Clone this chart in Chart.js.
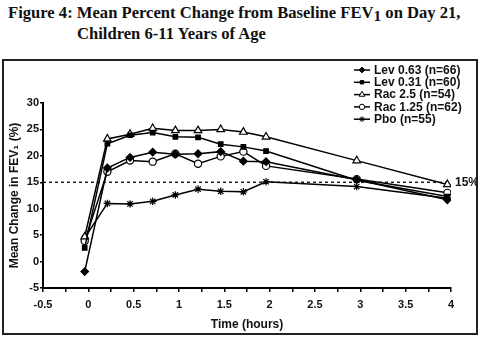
<!DOCTYPE html>
<html>
<head>
<meta charset="utf-8">
<script src="https://cdn.jsdelivr.net/npm/chart.js@4/dist/chart.umd.min.js"></script>
<style>
  body { margin: 0; background: #fff; width: 480px; height: 339px; position: relative; overflow: hidden; }
  .titulo { position: absolute; left: 8px; top: 2px; font-family: "Liberation Serif", "Times New Roman", serif; font-weight: bold; font-size: 16.6px; line-height: 21px; color: #111; white-space: nowrap; }
  .titulo .l2 { padding-left: 69px; }
  .titulo sub { font-size: 15.5px; vertical-align: -3px; line-height: 0; }
  .quadro { position: absolute; left: 2px; top: 59px; width: 472px; height: 272px; border: 2px solid #222; }
</style>
</head>
<body>
<div class="titulo">
  <div>Figure 4: Mean Percent Change from Baseline FEV<sub>1</sub> on Day 21,</div>
  <div class="l2">Children 6-11 Years of Age</div>
</div>
<div class="quadro"><canvas id="grafico" width="472" height="272"></canvas></div>
<script>
// horas apos a dose
const tempos = [-0.04, 0.21, 0.46, 0.71, 0.96, 1.21, 1.46, 1.71, 1.96, 2.96, 3.96];

// variacao media do FEV1 (%) por grupo
const lev063 = [-1.9, 17.7, 19.7, 20.7, 20.3, 20.4, 20.8, 19.0, 18.9, 15.5, 11.7];
const lev031 = [2.6, 22.3, 23.9, 24.4, 23.6, 23.5, 22.2, 21.7, 20.9, 15.4, 12.3];
const rac25 = [4.7, 23.2, 24.1, 25.2, 24.8, 24.8, 25.0, 24.5, 23.6, 19.1, 14.6];
const rac125 = [3.9, 17.0, 19.1, 18.9, 20.4, 18.5, 19.9, 20.8, 18.1, 15.6, 13.0];
const pbo = [4.5, 11.0, 10.9, 11.4, 12.6, 13.7, 13.3, 13.2, 15.1, 14.2, 12.0];

const rotulos = ['Lev 0.63 (n=66)', 'Lev 0.31 (n=60)', 'Rac 2.5 (n=54)', 'Rac 1.25 (n=62)', 'Pbo (n=55)'];
const limiar = 15;
const xTicks = { min: -0.5, max: 4, passo: 0.25 };
const yTicks = { min: -5, max: 30, passo: 5 };

const fonte = '"Liberation Sans", Arial, Helvetica, sans-serif';

const pontos = (ys) => tempos.map((t, i) => ({ x: t, y: ys[i] }));

const estilos = [
  { pointStyle: 'rectRot', pointRadius: 3.8, pointBackgroundColor: '#000' },
  { pointStyle: 'rect', pointRadius: 3.2, pointBackgroundColor: '#000' },
  { pointStyle: 'triangle', pointRadius: 4.4, pointBackgroundColor: '#fff' },
  { pointStyle: 'circle', pointRadius: 3.6, pointBackgroundColor: '#fff' },
  { pointStyle: 'star', pointRadius: 3.8, pointBackgroundColor: '#000' }
];

const series = [lev063, lev031, rac25, rac125, pbo];

const datasets = series.map((ys, i) => Object.assign({
  label: rotulos[i],
  data: pontos(ys),
  borderColor: '#000',
  borderWidth: 1.5,
  pointBorderColor: '#000',
  pointBorderWidth: 1.2,
  tension: 0
}, estilos[i]));

// linha tracejada dos 15%
datasets.push({
  label: 'limiar',
  data: [{ x: xTicks.min, y: limiar }, { x: xTicks.max, y: limiar }],
  borderColor: '#222',
  borderWidth: 1.5,
  borderDash: [3, 3],
  pointRadius: 0
});

const legendaPlugin = {
  id: 'legendaLinhas',
  afterDraw(chart) {
    const ctx = chart.ctx;
    const area = chart.chartArea;
    const x0 = area.right - 97;
    const y0 = area.top - 33;
    ctx.save();
    ctx.font = 'bold 12px ' + fonte;
    ctx.textBaseline = 'middle';
    rotulos.forEach((txt, i) => {
      const y = y0 + i * 12.3;
      ctx.strokeStyle = '#000';
      ctx.lineWidth = 1.5;
      ctx.beginPath();
      ctx.moveTo(x0, y);
      ctx.lineTo(x0 + 16, y);
      ctx.stroke();
      ctx.fillStyle = estilos[i].pointBackgroundColor;
      ctx.lineWidth = 1;
      Chart.helpers.drawPoint(ctx, {
        pointStyle: estilos[i].pointStyle,
        radius: estilos[i].pointRadius * 0.75,
        borderWidth: 1,
        rotation: 0
      }, x0 + 8, y);
      ctx.fillStyle = '#111';
      ctx.fillText(txt, x0 + 20, y + 0.5);
    });
    // rotulo do limiar
    const yl = chart.scales.y.getPixelForValue(limiar);
    ctx.fillText('15%', area.right + 4, yl);
    ctx.restore();
  }
};

new Chart(document.getElementById('grafico'), {
  type: 'line',
  data: { datasets },
  options: {
    responsive: false,
    animation: false,
    events: [],
    layout: { padding: { top: 42, right: 25, left: 0, bottom: 0 } },
    plugins: { legend: { display: false }, tooltip: { enabled: false } },
    scales: {
      x: {
        type: 'linear',
        min: xTicks.min,
        max: xTicks.max,
        afterFit: (s) => { s.height = 45; },
        border: { color: '#000', width: 2 },
        grid: { drawOnChartArea: false, drawTicks: true, tickLength: 4, color: '#000', lineWidth: 1.5 },
        ticks: {
          stepSize: xTicks.passo,
          autoSkip: false,
          maxRotation: 0,
          color: '#111',
          font: { family: fonte, size: 11, weight: 'bold' },
          padding: 6,
          callback: (v) => (Math.abs(v * 2 - Math.round(v * 2)) < 1e-6 ? String(v) : '')
        },
        title: {
          display: true,
          text: 'Time (hours)',
          color: '#111',
          font: { family: fonte, size: 12, weight: 'bold' },
          padding: { top: 2, bottom: 1 }
        }
      },
      y: {
        min: yTicks.min,
        max: yTicks.max,
        afterFit: (s) => { s.width = 39; },
        border: { color: '#000', width: 2 },
        grid: { drawOnChartArea: false, drawTicks: true, tickLength: 3, color: '#000', lineWidth: 1.5 },
        ticks: {
          stepSize: yTicks.passo,
          color: '#111',
          font: { family: fonte, size: 11, weight: 'bold' },
          padding: 1
        },
        title: {
          display: true,
          text: 'Mean Change in FEV\u2081 (%)',
          color: '#111',
          font: { family: fonte, size: 12, weight: 'bold' },
          padding: { top: 3, bottom: 0 }
        }
      }
    }
  },
  plugins: [legendaPlugin]
});
</script>
</body>
</html>
